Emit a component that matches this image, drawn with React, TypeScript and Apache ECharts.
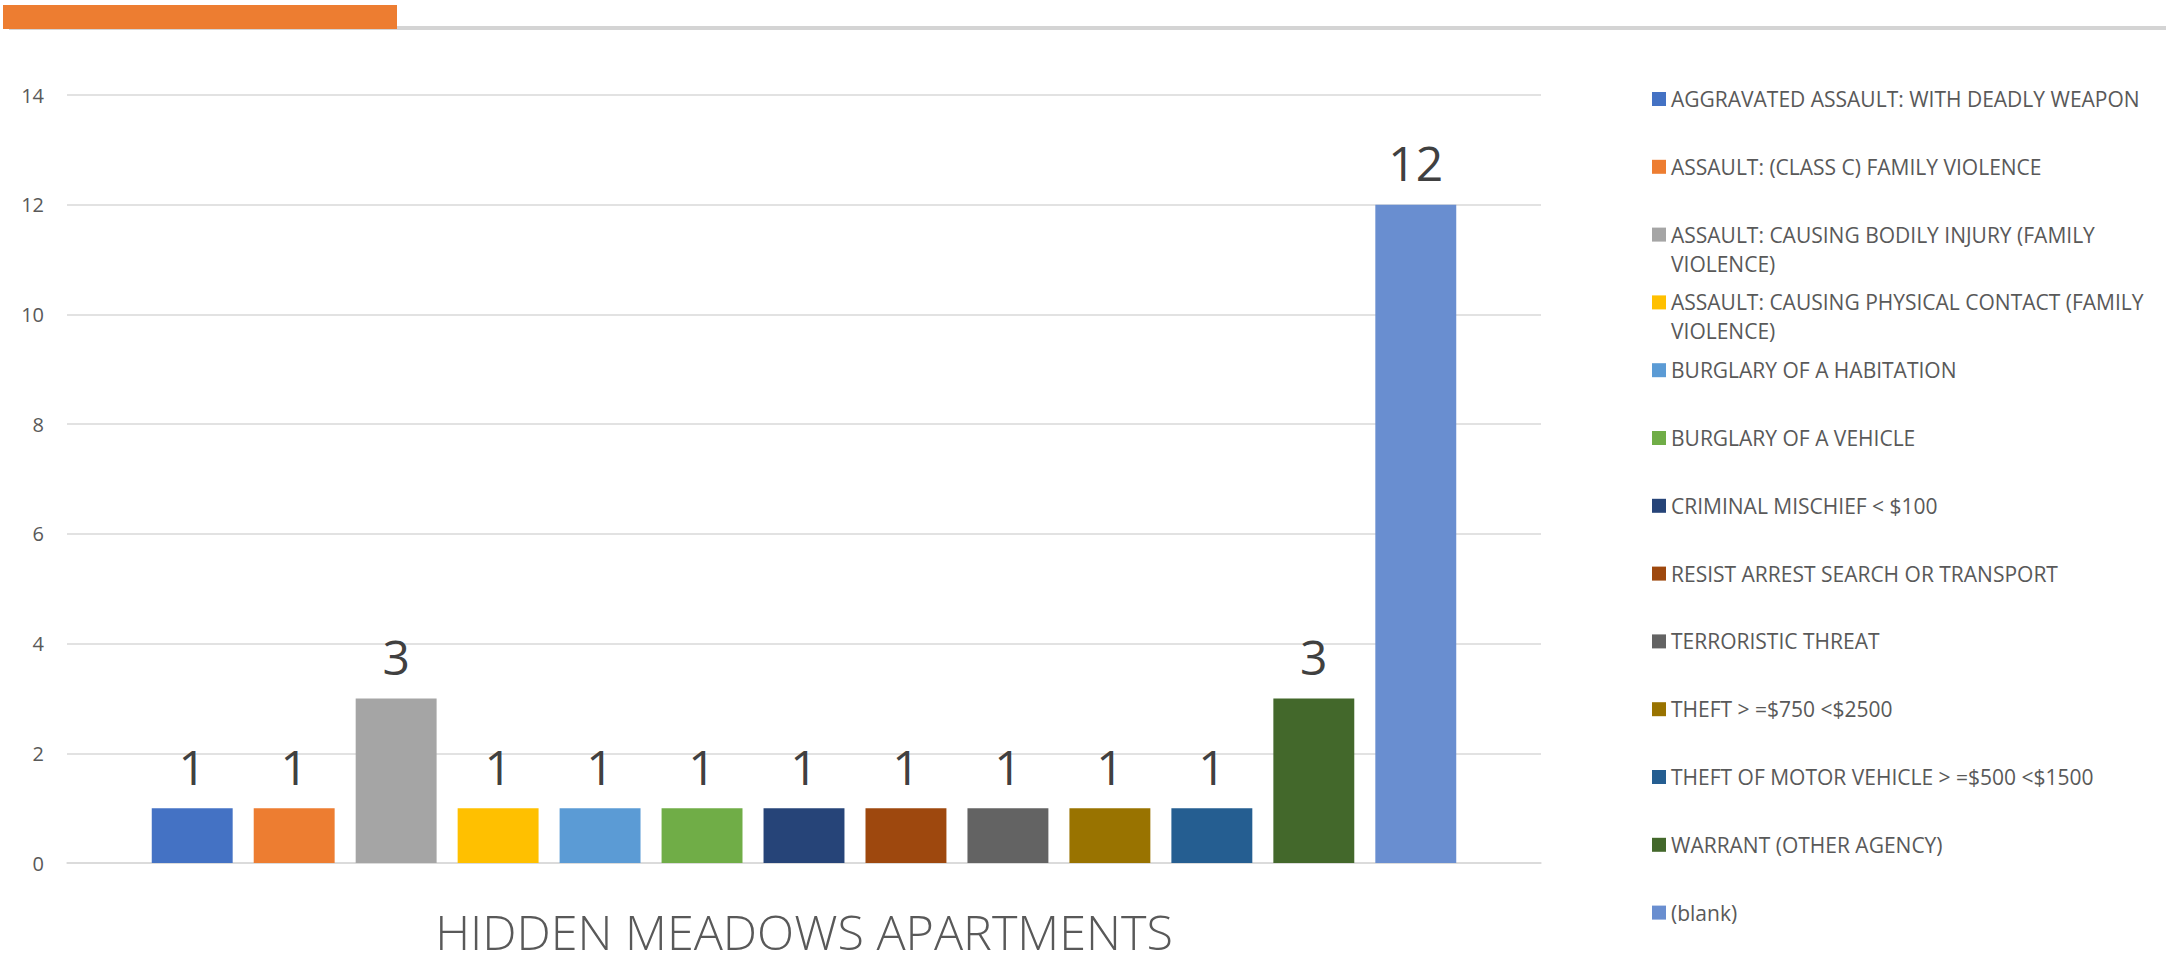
import React, { useEffect, useRef } from "react";
import * as echarts from "echarts";

const category = ["HIDDEN MEADOWS APARTMENTS"];

const offenses = [
  "AGGRAVATED ASSAULT: WITH DEADLY WEAPON",
  "ASSAULT: (CLASS C) FAMILY VIOLENCE",
  "ASSAULT: CAUSING BODILY INJURY (FAMILY VIOLENCE)",
  "ASSAULT: CAUSING PHYSICAL CONTACT (FAMILY VIOLENCE)",
  "BURGLARY OF A HABITATION",
  "BURGLARY OF A VEHICLE",
  "CRIMINAL MISCHIEF < $100",
  "RESIST ARREST SEARCH OR TRANSPORT",
  "TERRORISTIC THREAT",
  "THEFT > =$750 <$2500",
  "THEFT OF MOTOR VEHICLE > =$500 <$1500",
  "WARRANT (OTHER AGENCY)",
  "(blank)",
];

const counts = [1, 1, 3, 1, 1, 1, 1, 1, 1, 1, 1, 3, 12];

const colors = [
  "#4472C4",
  "#ED7D31",
  "#A5A5A5",
  "#FFC000",
  "#5B9BD5",
  "#70AD47",
  "#264478",
  "#9E480E",
  "#636363",
  "#997300",
  "#255E91",
  "#43682B",
  "#698ED0",
];

const legendWraps: Record<string, string> = {
  "ASSAULT: CAUSING BODILY INJURY (FAMILY VIOLENCE)":
    "ASSAULT: CAUSING BODILY INJURY (FAMILY\nVIOLENCE)",
  "ASSAULT: CAUSING PHYSICAL CONTACT (FAMILY VIOLENCE)":
    "ASSAULT: CAUSING PHYSICAL CONTACT (FAMILY\nVIOLENCE)",
};

const yTicks = { min: 0, max: 14, interval: 2 };

const FONT = "'Open Sans', 'Noto Sans', sans-serif";

export default function App() {
  const ref = useRef<HTMLDivElement>(null);

  useEffect(() => {
    if (!ref.current) return;
    const chart = echarts.init(ref.current, undefined, { renderer: "svg" });

    const series = offenses.map((name, i) => ({
      name,
      type: "bar",
      data: [counts[i]],
      itemStyle: { color: colors[i] },
      barGap: "26%",
      barCategoryGap: "11.5%",
      label: {
        show: true,
        position: "top",
        distance: 18,
        fontSize: 48,
        color: "#404040",
        fontFamily: FONT,
      },
    }));

    chart.setOption({
      animation: false,
      backgroundColor: "#ffffff",
      textStyle: { fontFamily: FONT },
      grid: {
        left: 67,
        right: 625,
        top: 95,
        bottom: 90,
        containLabel: false,
        outerBoundsMode: "none",
      },
      xAxis: {
        type: "category",
        data: category,
        axisLine: { show: true, lineStyle: { color: "#d9d9d9", width: 1.5 } },
        axisTick: { show: false },
        axisLabel: {
          fontSize: 48.5,
          fontWeight: 300,
          color: "#595959",
          margin: 43,
          fontFamily: FONT,
        },
      },
      yAxis: {
        type: "value",
        min: yTicks.min,
        max: yTicks.max,
        interval: yTicks.interval,
        axisLine: { show: false },
        axisTick: { show: false },
        splitLine: { lineStyle: { color: "#d9d9d9", width: 1.5 } },
        axisLabel: {
          fontSize: 20,
          color: "#595959",
          margin: 23,
          fontFamily: FONT,
        },
      },
      legend: {
        orient: "vertical",
        left: 1652,
        top: 84.5,
        height: 900,
        padding: 0,
        itemWidth: 14,
        itemHeight: 58,
        itemGap: 9.8,
        icon: "path://M0,0L0,0M0,7.5L14,7.5L14,21.5L0,21.5ZM14,58L14,58",
        selectedMode: false,
        formatter: (name: string) => legendWraps[name] ?? name + "\n ",
        textStyle: {
          fontSize: 21,
          lineHeight: 29,
          color: "#595959",
          fontFamily: FONT,
        },
        data: offenses,
      },
      graphic: [
        {
          type: "rect",
          left: 9,
          top: 26,
          shape: { width: 2157, height: 4 },
          style: { fill: "#d4d4d4" },
        },
        {
          type: "rect",
          left: 3,
          top: 5,
          shape: { width: 394, height: 24 },
          style: { fill: "#ED7D31" },
        },
      ],
      series,
    });

    return () => {
      chart.dispose();
    };
  }, []);

  return (
    <div
      ref={ref}
      style={{ position: "absolute", left: 0, top: 0, width: 2166, height: 953 }}
    />
  );
}
